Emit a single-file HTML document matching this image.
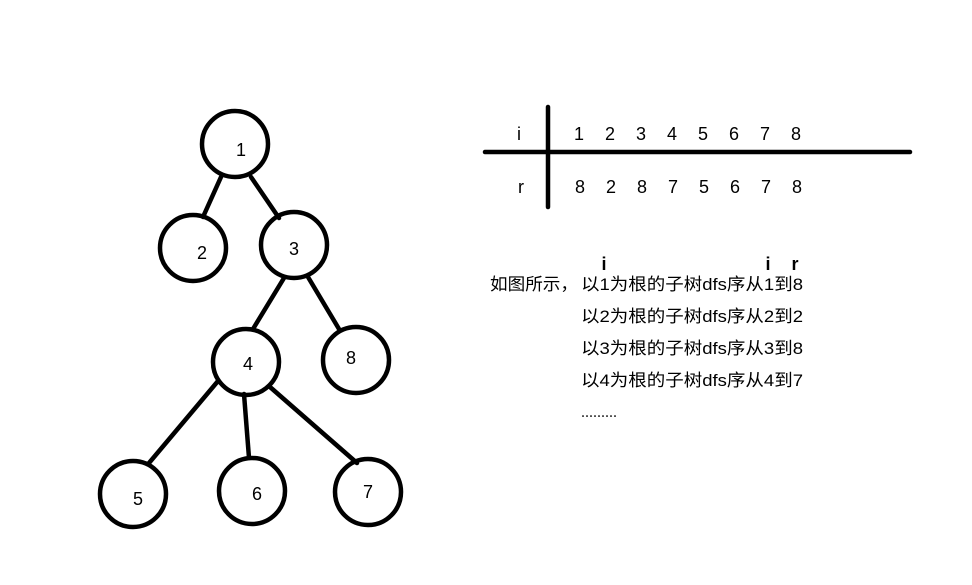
<!DOCTYPE html>
<html><head><meta charset="utf-8"><style>
html,body{margin:0;padding:0;background:#fff;}
svg{display:block;}
text{font-family:"Liberation Sans","Noto Sans CJK SC",sans-serif;fill:#000;}
</style></head><body>
<svg width="972" height="585" viewBox="0 0 972 585" xmlns="http://www.w3.org/2000/svg">
<g stroke="#000" stroke-width="4.5" fill="none" stroke-linecap="round">
<circle cx="235" cy="144" r="33"/>
<circle cx="193" cy="248" r="33"/>
<circle cx="294" cy="245" r="33"/>
<circle cx="246" cy="362" r="33"/>
<circle cx="356" cy="360" r="33"/>
<circle cx="133" cy="494" r="33"/>
<circle cx="252" cy="491" r="33"/>
<circle cx="368" cy="492" r="33"/>
<line x1="221" y1="177" x2="203" y2="217"/>
<line x1="251" y1="177" x2="279" y2="218"/>
<line x1="284" y1="278" x2="253" y2="329"/>
<line x1="308" y1="277" x2="339" y2="329"/>
<line x1="218" y1="381" x2="149" y2="463"/>
<line x1="244" y1="394" x2="249" y2="458"/>
<line x1="270" y1="387" x2="357" y2="463"/>
<line x1="548" y1="107" x2="548" y2="207"/>
<line x1="485" y1="152" x2="910" y2="152"/>
</g>
<g font-size="18" text-anchor="middle">
<text x="241" y="156">1</text>
<text x="202" y="259">2</text>
<text x="294" y="255">3</text>
<text x="248" y="370">4</text>
<text x="351" y="364">8</text>
<text x="138" y="505">5</text>
<text x="257" y="500">6</text>
<text x="368" y="498">7</text>
<text x="519" y="140">i</text>
<text x="521" y="193">r</text>
<text x="579" y="140">1</text><text x="610" y="140">2</text><text x="641" y="140">3</text><text x="672" y="140">4</text><text x="703" y="140">5</text><text x="734" y="140">6</text><text x="765" y="140">7</text><text x="796" y="140">8</text>
<text x="580" y="193">8</text><text x="611" y="193">2</text><text x="642" y="193">8</text><text x="673" y="193">7</text><text x="704" y="193">5</text><text x="735" y="193">6</text><text x="766" y="193">7</text><text x="797" y="193">8</text>
</g>
<g font-size="18" font-weight="bold" text-anchor="middle">
<text x="604" y="270">i</text>
<text x="768" y="270">i</text>
<text x="795" y="270">r</text>
</g>
<g font-size="17">
<text x="490" y="290" textLength="88" lengthAdjust="spacingAndGlyphs">如图所示，</text>
<text x="581" y="290" textLength="222" lengthAdjust="spacingAndGlyphs">以1为根的子树dfs序从1到8</text>
<text x="581" y="322" textLength="222" lengthAdjust="spacingAndGlyphs">以2为根的子树dfs序从2到2</text>
<text x="581" y="354" textLength="222" lengthAdjust="spacingAndGlyphs">以3为根的子树dfs序从3到8</text>
<text x="581" y="386" textLength="222" lengthAdjust="spacingAndGlyphs">以4为根的子树dfs序从4到7</text>
<text x="581" y="417" textLength="36" lengthAdjust="spacingAndGlyphs">.........</text>
</g>
</svg>
</body></html>
